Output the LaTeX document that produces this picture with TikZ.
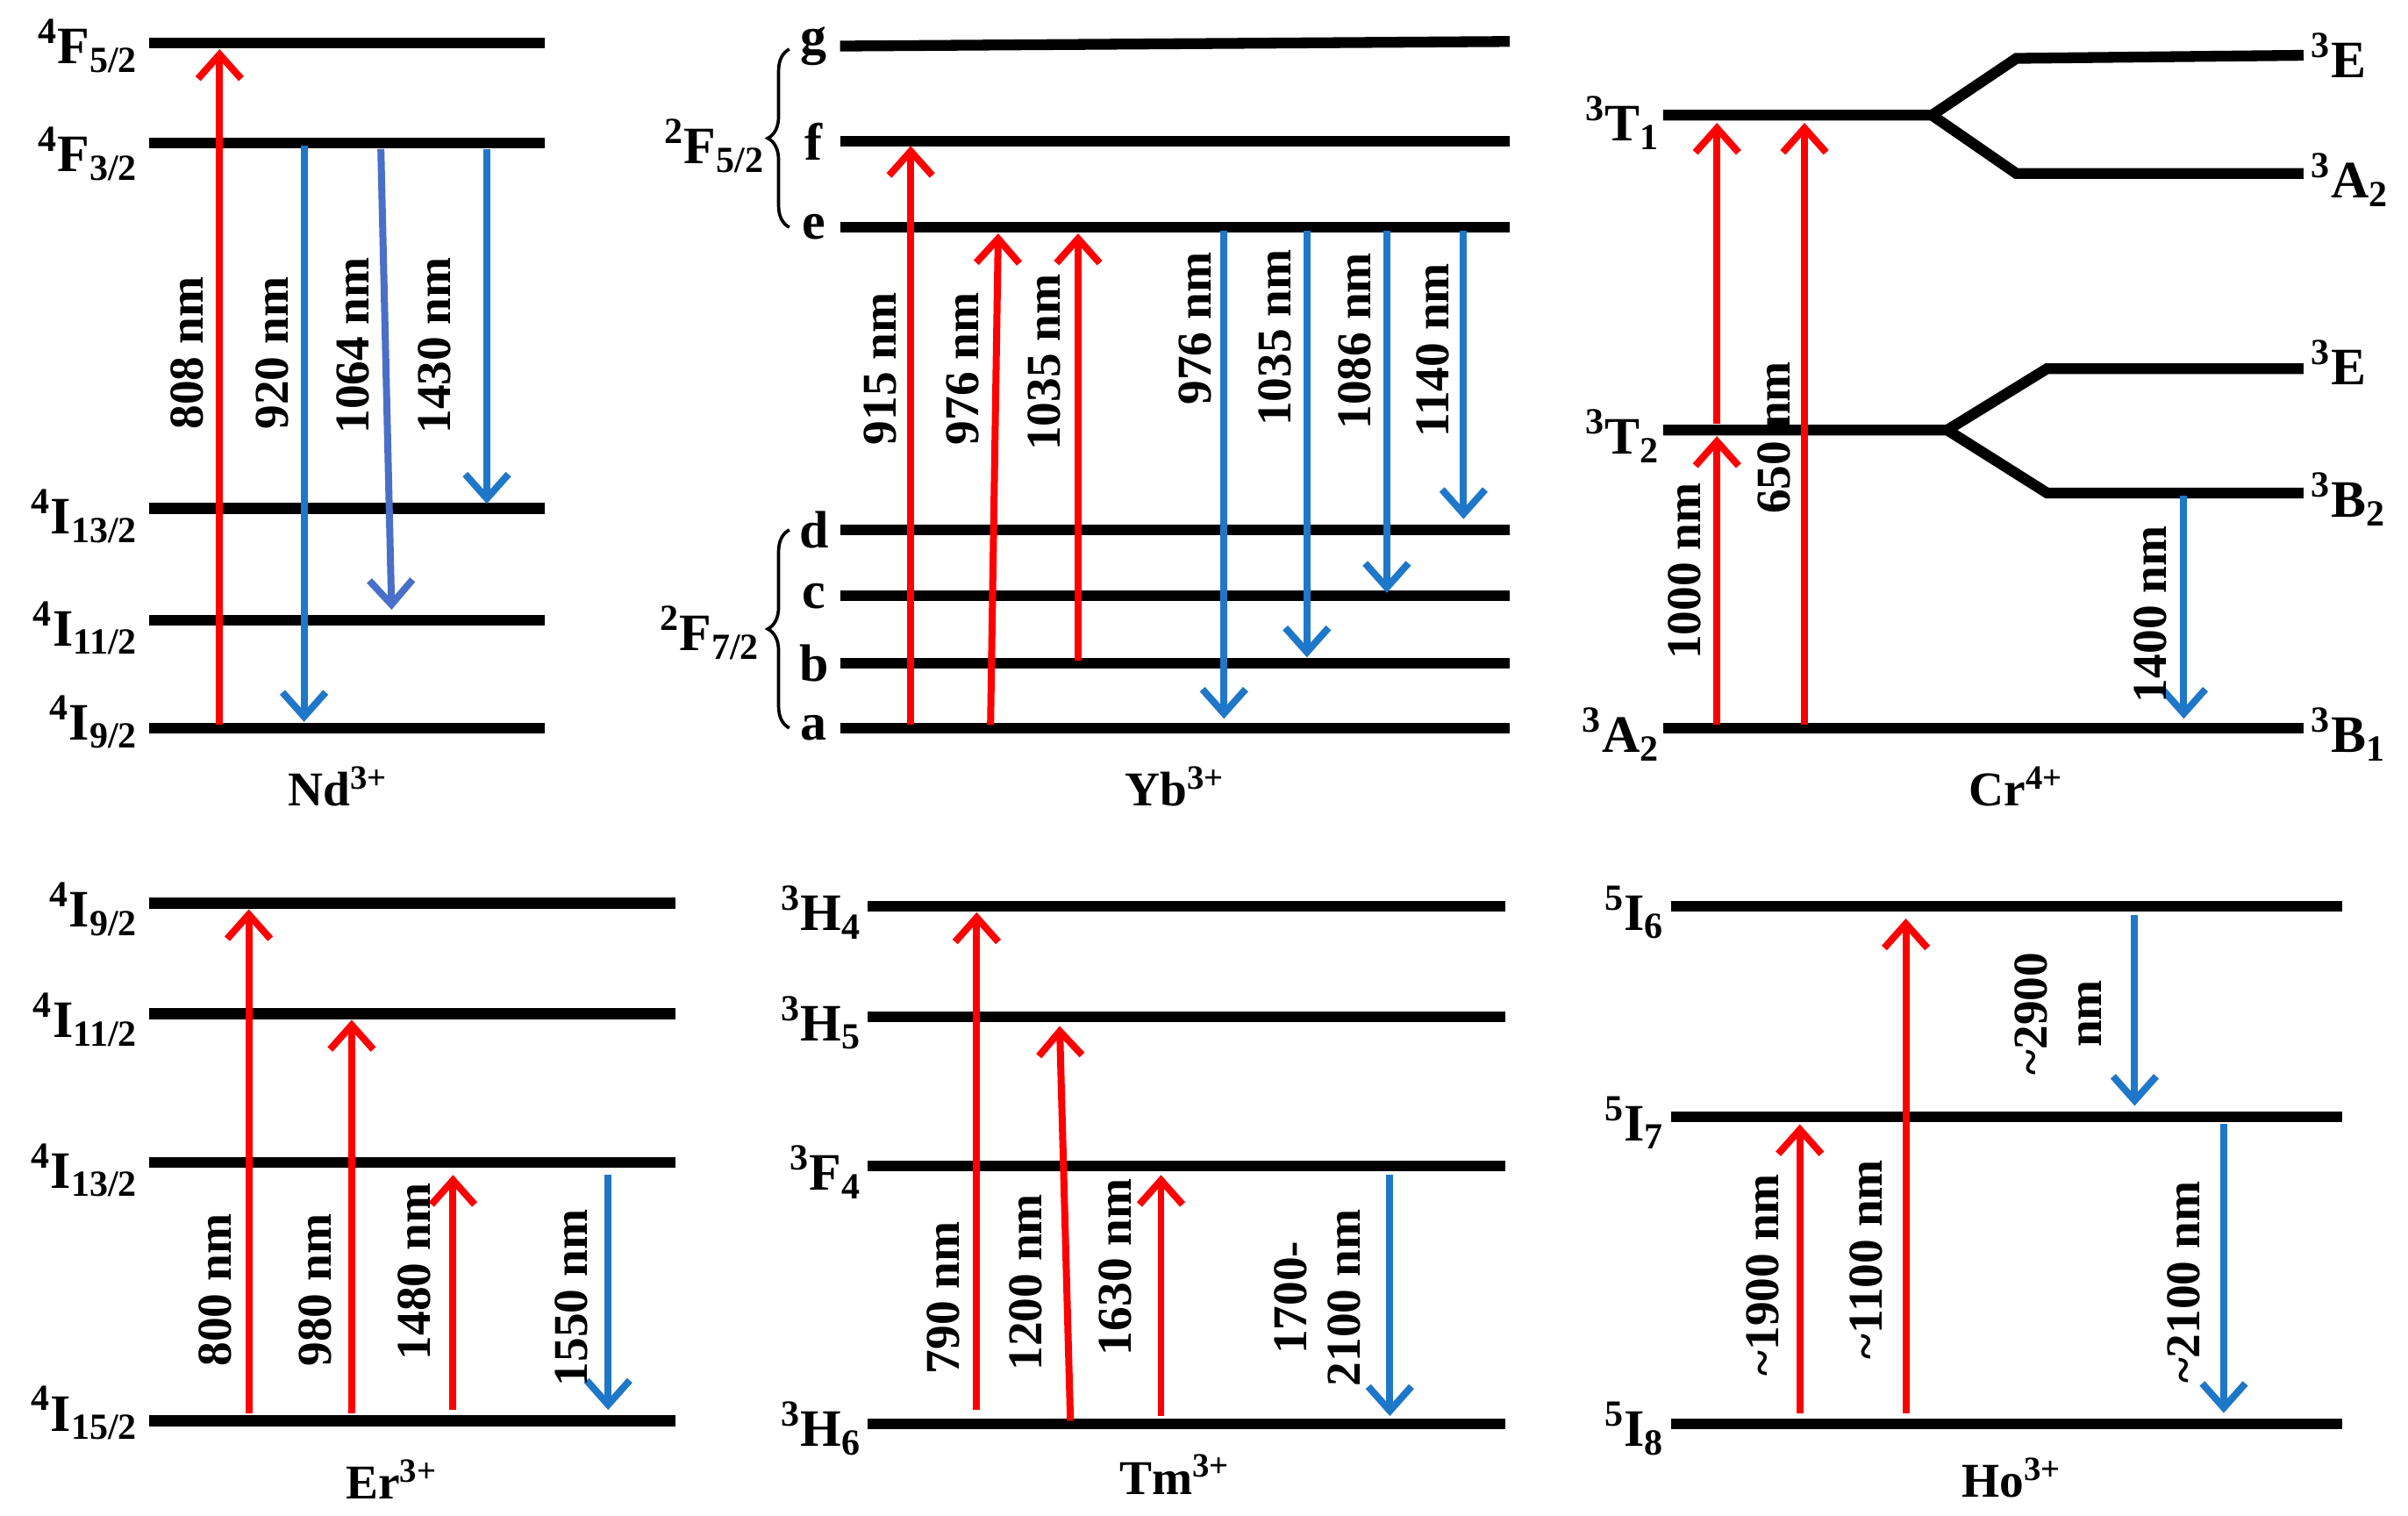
\documentclass[tikz,border=0pt]{standalone}
\usepackage{fontspec}
\setmainfont{Liberation Serif}
\usetikzlibrary{arrows.meta,decorations.pathreplacing}
\definecolor{ared}{HTML}{FF0000}
\definecolor{ablue}{HTML}{1F77C9}
\definecolor{ablue2}{HTML}{4A6FC8}
\begin{document}
\begin{tikzpicture}[x=0.02cm,y=-0.02cm,
  every node/.style={font=\fontsize{18}{20}\selectfont\bfseries,inner sep=1pt},
  lev/.style={line width=4pt},
  up/.style={ared,line width=2.6pt,-{Straight Barb[length=9pt,width=16pt,line width=2.6pt]}},
  dn/.style={ablue,line width=2.6pt,-{Straight Barb[length=9pt,width=16pt,line width=2.6pt]}},
  lab/.style={rotate=90},
  ll/.style={anchor=east,font=\fontsize{19.5}{21}\selectfont\bfseries},
  rl/.style={anchor=west,font=\fontsize{19.5}{21}\selectfont\bfseries}]
\useasboundingbox (0,0) rectangle (1568,987);
% ---------- Nd
\foreach \y in {28,93,331,404,474}{\draw[lev] (97,\y) -- (355,\y);}
\node[ll] (nd1) at (92,30) {\textsuperscript{4}F\textsubscript{5/2}};
\node[ll] (nd2) at (92,100) {\textsuperscript{4}F\textsubscript{3/2}};
\node[ll] (nd3) at (92,336) {\textsuperscript{4}I\textsubscript{13/2}};
\node[ll] (nd4) at (92,409) {\textsuperscript{4}I\textsubscript{11/2}};
\node[ll] (nd5) at (92,470) {\textsuperscript{4}I\textsubscript{9/2}};
\draw[up] (143,472) -- (143,32);
\draw[dn] (198,95) -- (198,470);
\draw[dn,ablue2] (248,97) -- (255,397);
\draw[dn] (317,97) -- (317,328);
\node[lab] (l1) at (122,230) {808 nm};
\node[lab] (l2) at (177,230) {920 nm};
\node[lab] (l3) at (230,225) {1064 nm};
\node[lab] (l4) at (283,225) {1430 nm};
\node (ndt) at (220,512) {Nd\textsuperscript{3+}};
% ---------- Yb
\draw[lev] (547,30) -- (983,27);
\foreach \y in {92,148,345,388,432,474}{\draw[lev] (547,\y) -- (983,\y);}
\foreach \y/\t in {30/g,92/f,148/e,345/d,388/c,432/b,474/a}{\node[font=\fontsize{19.5}{21}\selectfont\bfseries] (yb\t) at (530,\y) {\t};}
\draw[line width=1.2pt,decorate,decoration={brace,amplitude=8pt}] (514,148) -- (514,32);
\draw[line width=1.2pt,decorate,decoration={brace,amplitude=8pt}] (514,474) -- (514,345);
\node[ll] (f52) at (500,95) {\textsuperscript{2}F\textsubscript{5/2}};
\node[ll] (f72) at (497,412) {\textsuperscript{2}F\textsubscript{7/2}};
\draw[up] (593,472) -- (593,95);
\draw[up] (645,472) -- (650,152);
\draw[up] (702,430) -- (702,152);
\draw[dn] (797,150) -- (797,468);
\draw[dn] (851,150) -- (851,428);
\draw[dn] (903,150) -- (903,386);
\draw[dn] (953,150) -- (953,338);
\node[lab] at (573,240) {915 nm};
\node[lab] at (627,240) {976 nm};
\node[lab] at (680,236) {1035 nm};
\node[lab] at (778,214) {976 nm};
\node[lab] at (830,220) {1035 nm};
\node[lab] at (882,222) {1086 nm};
\node[lab] at (933,228) {1140 nm};
\node (ybt) at (765,512) {Yb\textsuperscript{3+}};
% ---------- Cr
\draw[lev] (1083,75) -- (1258,75) -- (1313,38) -- (1500,36);
\draw[lev] (1258,75) -- (1313,113) -- (1500,113);
\draw[lev] (1083,280) -- (1268,280) -- (1333,240) -- (1500,240);
\draw[lev] (1268,280) -- (1333,321) -- (1500,321);
\draw[lev] (1083,474) -- (1500,474);
\node[ll] at (1083,80) {\textsuperscript{3}T\textsubscript{1}};
\node[ll] at (1083,284) {\textsuperscript{3}T\textsubscript{2}};
\node[ll] at (1083,478) {\textsuperscript{3}A\textsubscript{2}};
\node[rl] at (1503,36) {\textsuperscript{3}E};
\node[rl] at (1503,117) {\textsuperscript{3}A\textsubscript{2}};
\node[rl] at (1503,236) {\textsuperscript{3}E};
\node[rl] at (1503,325) {\textsuperscript{3}B\textsubscript{2}};
\node[rl] at (1503,478) {\textsuperscript{3}B\textsubscript{1}};
\draw[up] (1118,472) -- (1118,284);
\draw[up] (1118,276) -- (1118,80);
\draw[up] (1175,472) -- (1175,80);
\draw[dn] (1422,323) -- (1422,468);
\node[lab] at (1097,372) {1000 nm};
\node[lab] at (1155,285) {650 nm};
\node[lab] at (1400,400) {1400 nm};
\node (crt) at (1313,512) {Cr\textsuperscript{4+}};
% ---------- Er
\foreach \y in {588,660,757,925}{\draw[lev] (97,\y) -- (440,\y);}
\node[ll] at (92,592) {\textsuperscript{4}I\textsubscript{9/2}};
\node[ll] at (92,664) {\textsuperscript{4}I\textsubscript{11/2}};
\node[ll] at (92,762) {\textsuperscript{4}I\textsubscript{13/2}};
\node[ll] at (92,920) {\textsuperscript{4}I\textsubscript{15/2}};
\draw[up] (162,920) -- (162,592);
\draw[up] (229,920) -- (229,664);
\draw[up] (295,918) -- (295,765);
\draw[dn] (396,765) -- (396,918);
\node[lab] at (140,840) {800 nm};
\node[lab] at (205,840) {980 nm};
\node[lab] at (270,828) {1480 nm};
\node[lab] at (372,845) {1550 nm};
\node (ert) at (255,963) {Er\textsuperscript{3+}};
% ---------- Tm
\foreach \y in {590,662,759,927}{\draw[lev] (565,\y) -- (980,\y);}
\node[ll] at (563,594) {\textsuperscript{3}H\textsubscript{4}};
\node[ll] at (563,666) {\textsuperscript{3}H\textsubscript{5}};
\node[ll] at (563,763) {\textsuperscript{3}F\textsubscript{4}};
\node[ll] at (563,930) {\textsuperscript{3}H\textsubscript{6}};
\draw[up] (636,918) -- (636,594);
\draw[up] (697,925) -- (690,668);
\draw[up] (756,922) -- (756,765);
\draw[dn] (905,765) -- (905,922);
\node[lab] at (614,845) {790 nm};
\node[lab] at (668,835) {1200 nm};
\node[lab] at (726,825) {1630 nm};
\node[lab,align=center] at (858,845) {1700-\\2100 nm};
\node (tmt) at (765,960) {Tm\textsuperscript{3+}};
% ---------- Ho
\foreach \y in {590,727,927}{\draw[lev] (1088,\y) -- (1525,\y);}
\node[ll] at (1086,594) {\textsuperscript{5}I\textsubscript{6}};
\node[ll] at (1086,731) {\textsuperscript{5}I\textsubscript{7}};
\node[ll] at (1086,930) {\textsuperscript{5}I\textsubscript{8}};
\draw[up] (1172,920) -- (1172,732);
\draw[up] (1241,920) -- (1241,598);
\draw[dn] (1390,596) -- (1390,720);
\draw[dn] (1448,732) -- (1448,920);
\node[lab,align=center] at (1340,660) {\textasciitilde2900\\nm};
\node[lab] at (1148,830) {\textasciitilde1900 nm};
\node[lab] at (1215,820) {\textasciitilde1100 nm};
\node[lab] at (1422,835) {\textasciitilde2100 nm};
\node (hot) at (1310,962) {Ho\textsuperscript{3+}};
\end{tikzpicture}
\end{document}
